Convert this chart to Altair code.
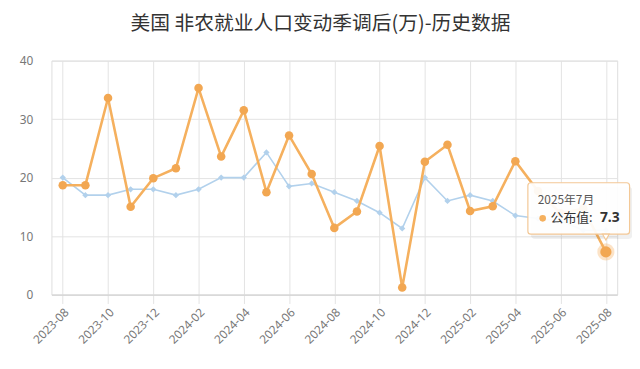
import altair as alt
import pandas as pd

months = ["2023-08", "2023-09", "2023-10", "2023-11", "2023-12",
          "2024-01", "2024-02", "2024-03", "2024-04", "2024-05", "2024-06",
          "2024-07", "2024-08", "2024-09", "2024-10", "2024-11", "2024-12",
          "2025-01", "2025-02", "2025-03", "2025-04", "2025-05", "2025-06",
          "2025-07", "2025-08"]
actual = [18.7, 18.7, 33.6, 15.0, 19.9, 21.6, 35.3, 23.6, 31.5, 17.5, 27.2,
          20.6, 11.4, 14.2, 25.4, 1.2, 22.7, 25.6, 14.3, 15.1, 22.8, 17.7,
          13.9, 14.7, 7.3]
forecast = [20.0, 17.0, 17.0, 18.0, 18.0, 17.0, 18.0, 20.0, 20.0, 24.3, 18.5,
            19.0, 17.5, 16.0, 14.0, 11.3, 20.0, 16.0, 17.0, 16.0, 13.5, 13.0,
            12.6, 11.0, 11.0]
y_ticks = [0, 10, 20, 30, 40]
title_text = "美国 非农就业人口变动季调后(万)-历史数据"
tip_month = "2025年7月"
tip_label = "公布值:"

ORANGE = "#f5b05e"
ORANGE_DARK = "#f2a752"
BLUE = "#b2d1ec"
GRID = "#e3e3e3"
FONT = "Noto Sans CJK SC"

df = pd.DataFrame({"month": months, "actual": actual, "forecast": forecast})
last = pd.DataFrame({"month": [months[-1]], "v": [actual[-1]],
                     "tm": [tip_month], "tl": [tip_label],
                     "tv": [f"{actual[-1]:.1f}"]})

X = lambda: alt.X("month:O", sort=months)

x_enc = alt.X("month:O", sort=months,
              scale=alt.Scale(type="point", padding=0.5),
              axis=alt.Axis(values=months[::2], labelAngle=-45, grid=True,
                            gridColor=GRID, domainColor="#d0d0d0",
                            tickColor=GRID, tickSize=9, labelColor="#777",
                            labelFontSize=12, labelFont="Noto Sans",
                            labelPadding=3, title=None))
y_scale = alt.Scale(domain=[0, 40], nice=False)
y_axis = alt.Axis(values=y_ticks, grid=True, gridColor=GRID, domain=False,
                  ticks=False, labelColor="#777", labelFontSize=12,
                  labelFont="Noto Sans", labelPadding=19, title=None)

base = alt.Chart(df)
blue = base.mark_line(color=BLUE, strokeWidth=1.6).encode(
    x=x_enc, y=alt.Y("forecast:Q", scale=y_scale, axis=y_axis))
blue_pts = base.mark_point(shape="diamond", filled=True, color=BLUE,
                           size=40, opacity=1).encode(x=X(), y="forecast:Q")
orange = base.mark_line(color=ORANGE, strokeWidth=2.6).encode(
    x=X(), y="actual:Q")
orange_pts = base.mark_point(filled=True, color=ORANGE_DARK, size=75,
                             opacity=1).encode(x=X(), y="actual:Q")

lb = alt.Chart(last)
halo = lb.mark_point(filled=True, color=ORANGE, size=300, opacity=0.35).encode(
    x=X(), y="v:Q")
hi = lb.mark_point(filled=True, color=ORANGE_DARK, size=130, opacity=1).encode(
    x=X(), y="v:Q")

shadow = lb.mark_rect(color="#000", opacity=0.06, cornerRadius=4,
                      xOffset=-76, x2Offset=27, yOffset=-66, y2Offset=-13).encode(
    x=X(), x2="month:O", y="v:Q", y2="v:Q")
box = lb.mark_rect(fill="white", fillOpacity=0.93, stroke="#f3c896",
                   strokeWidth=1.2, cornerRadius=3,
                   xOffset=-79, x2Offset=24, yOffset=-70, y2Offset=-18).encode(
    x=X(), x2="month:O", y="v:Q", y2="v:Q")
pointer = lb.mark_point(shape="triangle-down", filled=True, fill="white",
                        stroke="#f3c896", strokeWidth=1.2, size=45, opacity=1,
                        yOffset=-15).encode(x=X(), y="v:Q")
t1 = lb.mark_text(align="left", baseline="middle", dx=-69, dy=-52,
                  fontSize=12, color="#555", font=FONT).encode(
    x=X(), y="v:Q", text="tm:N")
dot = lb.mark_point(filled=True, color=ORANGE, size=45, opacity=1,
                    xOffset=-64, yOffset=-34).encode(x=X(), y="v:Q")
t2 = lb.mark_text(align="left", baseline="middle", dx=-56, dy=-34,
                  fontSize=13, color="#333", font=FONT).encode(
    x=X(), y="v:Q", text="tl:N")
t3 = lb.mark_text(align="left", baseline="middle", dx=-6, dy=-34,
                  fontSize=14, fontWeight="bold", color="#333",
                  font="Noto Sans").encode(x=X(), y="v:Q", text="tv:N")

chart = alt.layer(blue, blue_pts, orange, orange_pts, halo, hi,
                  shadow, box, pointer, t1, dot, t2, t3).properties(
    width=573, height=237,
    title=alt.TitleParams(title_text, fontSize=20, font=FONT,
                          fontWeight="normal", color="#333",
                          anchor="middle", dx=-14, offset=21),
    autosize=alt.AutoSizeParams(type="none"),
    padding={"left": 44, "top": 51, "right": 15, "bottom": 65},
).configure_view(stroke=None).configure(background="white")

chart.save("out.html", embed_options={"renderer": "svg", "actions": False})
